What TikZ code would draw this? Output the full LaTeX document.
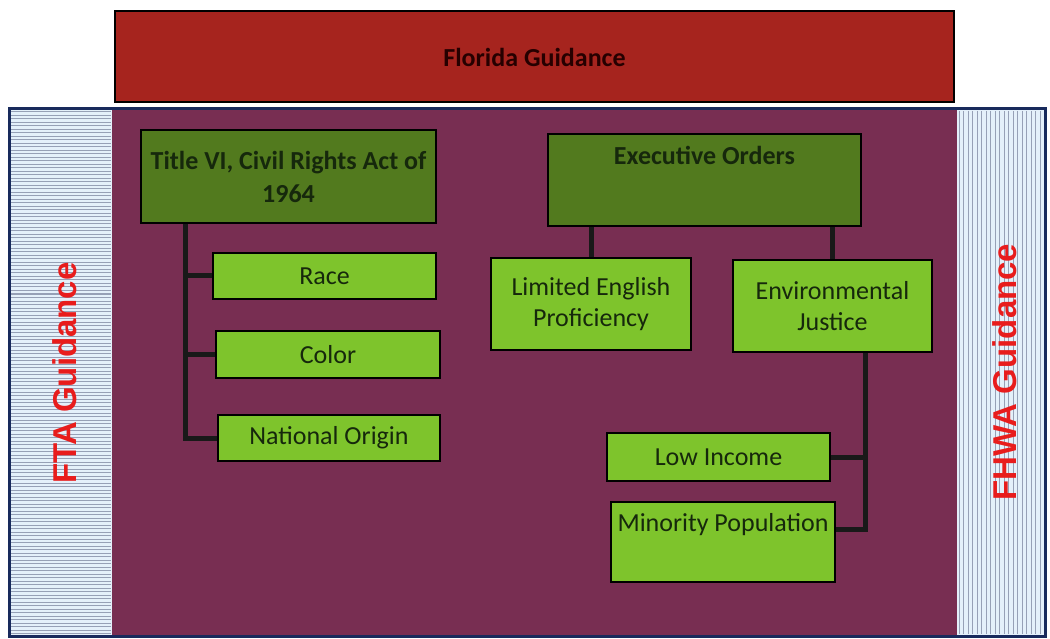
\documentclass[tikz,border=0pt]{standalone}
\usepackage{fontspec}
\setmainfont{Carlito}
\newfontfamily\sidefont{Liberation Sans}
\usepackage{tikz}
\usetikzlibrary{calc}
\definecolor{flred}{RGB}{166,36,30}
\definecolor{plum}{RGB}{120,46,82}
\definecolor{darkleaf}{RGB}{82,122,30}
\definecolor{leaf}{RGB}{126,196,44}
\definecolor{inkgreen}{RGB}{22,40,12}
\definecolor{frameblue}{RGB}{24,42,92}
\definecolor{stripe}{RGB}{150,160,182}
\definecolor{paleblue}{RGB}{228,240,250}
\definecolor{sidered}{RGB}{232,28,28}
\tikzset{
    headbox/.style = {
        fill       = darkleaf,
        draw       = black,
        line width = 2pt,
        text       = inkgreen,
        font       = \bfseries\fontsize{26}{33}\selectfont,
        align      = center,
    },
    itembox/.style = {
        headbox,
        fill = leaf,
        font = \fontsize{26}{31}\selectfont,
    },
    guidebar/.style = {
        headbox,
        fill = flred,
        text = black!85!red,
    },
    link/.style      = {line width = 5pt, draw = black!90},
    sidelabel/.style = {
        text   = sidered,
        font   = \sidefont\bfseries\fontsize{33}{33}\selectfont,
        rotate = 90,
    },
}

\begin{document}
\begin{tikzpicture}[x=1pt, y=-1pt]
        \useasboundingbox (0,0) rectangle (1050,639);

        % frame with the two striped side panels
        \fill [plum] (112,110) rectangle (957,635);
        \fill [paleblue] (10,110) rectangle (112,635);
        \foreach \y in {112,115.5,...,634} \draw [stripe, line width=1pt] (11,\y) -- (111,\y);
        \fill [paleblue] (957,110) rectangle (1045,635);
        \foreach \x in {959,963.5,...,1044} \draw [stripe, line width=1pt] (\x,111) -- (\x,634);
        \draw [frameblue, line width=3pt] (9,109) rectangle (1045,636);

        \node (fta) [sidelabel] at (65,373) {FTA Guidance};
        \node (fhwa) [sidelabel] at (1005,372) {FHWA Guidance};

        \node (florida) [guidebar, minimum width=839pt, minimum height=91pt] at (534.5,57) {Florida Guidance};

        \node (title) [headbox, minimum width=295pt, minimum height=93pt] at (288.5,176.5) {Title VI, Civil Rights Act of\\1964};
        \node (race) [itembox, minimum width=223pt, minimum height=46pt] at (324.5,276) {Race};
        \node (color) [itembox, minimum width=224pt, minimum height=47pt] at (328,354.5) {Color};
        \node (origin) [itembox, minimum width=222pt, minimum height=46pt] at (329,438) {National Origin};

        \node (eo) [headbox, minimum width=313pt, inner ysep=6pt, text height=25pt, text depth=55pt] at (704.5,180) {Executive Orders};
        \node (lep) [itembox, minimum width=200pt, minimum height=92pt] at (591,304) {Limited English\\Proficiency};
        \node (ej) [itembox, minimum width=199pt, minimum height=92pt] at (832.5,306) {Environmental\\Justice};
        \node (li) [itembox, minimum width=223pt, minimum height=48pt] at (718.5,457) {Low Income};
        \node (mp) [itembox, minimum width=224pt, inner ysep=6pt, text height=23pt, text depth=45pt] at (723,542) {Minority Population};

        \coordinate (trunk) at ($(title.south west)+(45,0)$);
        \draw [link] (trunk) |- (race.west);
        \draw [link] (trunk) |- (color.west);
        \draw [link] (trunk) |- (origin.west);

        \draw [link] (lep.north) -- (lep.north |- eo.south);
        \draw [link] (ej.north) -- (ej.north |- eo.south);

        \coordinate (ejtrunk) at ([xshift=33pt]ej.south);
        \draw [link] (ejtrunk) |- (li.east);
        \draw [link] (ejtrunk) |- ([yshift=-28pt]mp.north east);

    \end{tikzpicture}
\end{document}
